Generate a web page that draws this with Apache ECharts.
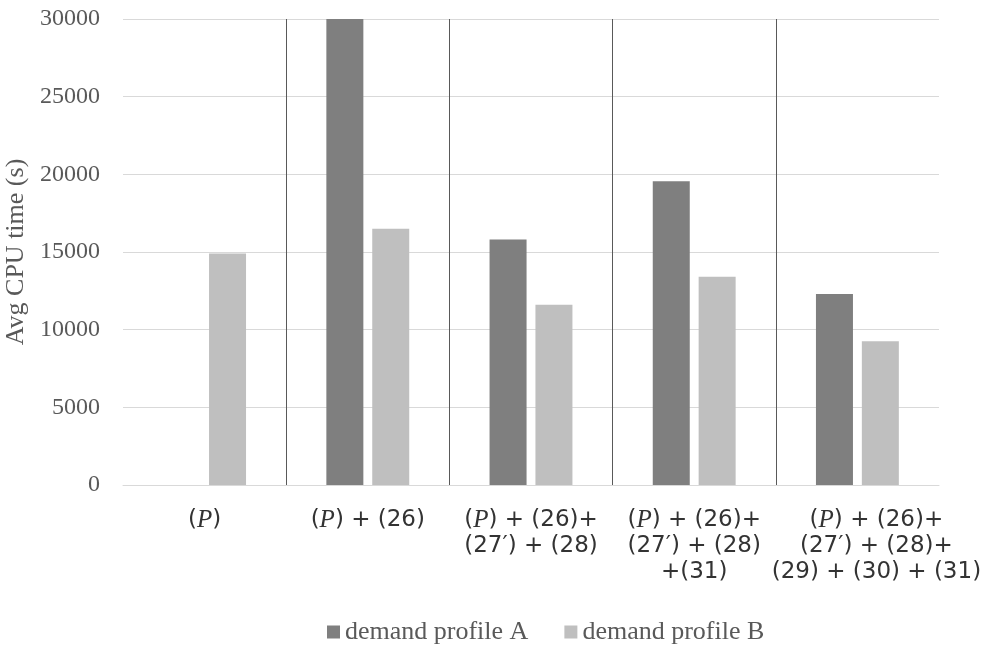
<!DOCTYPE html>
<html>
<head>
<meta charset="utf-8">
<script src="https://cdn.jsdelivr.net/npm/echarts@6/dist/echarts.min.js"></script>
<style>html,body{margin:0;padding:0;background:#fff;}#c{width:985px;height:646px;}</style>
</head>
<body>
<div id="c"></div>
<script>
const categories = [
  "(P)",
  "(P) + (26)",
  "(P) + (26)+\n(27′) + (28)",
  "(P) + (26)+\n(27′) + (28)\n+(31)",
  "(P) + (26)+\n(27′) + (28)+\n(29) + (30) + (31)"
];
const seriesNames = ["demand profile A", "demand profile B"];
const profileA = [null, 30000, 15800, 19550, 12300];
const profileB = [14900, 16500, 11600, 13400, 9250];
const yTicks = { min: 0, max: 30000, interval: 5000 };

const chart = echarts.init(document.getElementById('c'));
const serif = "'Liberation Serif', 'DejaVu Serif', serif";
const math = "'DejaVu Sans', 'Noto Sans', sans-serif";

function richLabel(value, idx) {
  const shifted = idx === categories.length - 1;
  return value.split('\n').map(function (line) {
    const parts = line.split('(P)');
    let out = '';
    parts.forEach(function (seg, k) {
      if (k > 0) out += '{n|(}{i|P}{n|)}';
      if (seg) out += '{n|' + seg + '}';
    });
    if (shifted) out = '{pad|}' + out;
    return out;
  }).join('\n');
}

chart.setOption({
  animation: false,
  backgroundColor: '#ffffff',
  grid: { left: 123, right: 46, top: 19, bottom: 161, outerBoundsMode: 'none', containLabel: false },
  legend: {
    data: seriesNames,
    left: 322, top: 614,
    itemWidth: 13, itemHeight: 13, itemGap: 36,
    icon: 'rect',
    itemStyle: { borderWidth: 0 },
    textStyle: { fontFamily: serif, fontSize: 26, color: '#595959' }
  },
  xAxis: {
    type: 'category',
    data: categories,
    axisLine: { show: true, lineStyle: { color: '#d9d9d9', width: 1 } },
    axisTick: { show: false },
    splitLine: { show: true, showMinLine: false, showMaxLine: false, interval: 0, lineStyle: { color: '#595959', width: 1 } },
    axisLabel: {
      interval: 0,
      margin: 22,
      formatter: richLabel,
      rich: {
        n: { fontFamily: math, fontSize: 23, color: '#333333', lineHeight: 26 },
        i: { fontFamily: serif, fontStyle: 'italic', fontSize: 25, color: '#333333', lineHeight: 26 },
        pad: { width: 38, lineHeight: 26 }
      }
    }
  },
  yAxis: {
    type: 'value',
    min: yTicks.min, max: yTicks.max, interval: yTicks.interval,
    name: 'Avg CPU time (s)',
    nameLocation: 'middle',
    nameGap: 89,
    nameTextStyle: { fontFamily: serif, fontSize: 26, color: '#595959' },
    axisLine: { show: false },
    axisTick: { show: false },
    axisLabel: { margin: 23, fontFamily: serif, fontSize: 24, color: '#595959', formatter: function (v) { return String(v); } },
    splitLine: { show: true, lineStyle: { color: '#d9d9d9', width: 1 } }
  },
  series: [
    {
      name: seriesNames[0], type: 'bar', data: profileA,
      barWidth: 37, barGap: '24%',
      itemStyle: { color: '#7f7f7f' }
    },
    {
      name: seriesNames[1], type: 'bar', data: profileB,
      barWidth: 37,
      itemStyle: { color: '#bfbfbf' }
    }
  ]
});
</script>
</body>
</html>
